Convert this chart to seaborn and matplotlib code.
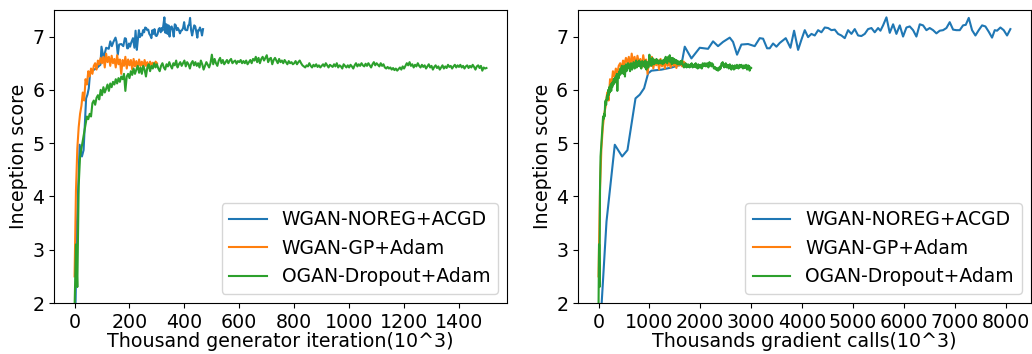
import numpy as np
import pandas as pd
import seaborn as sns
import matplotlib.pyplot as plt

# WGAN-NOREG+ACGD (x in thousand gradient calls)
acgd_calls = [0, 157, 320, 464, 569, 727, 811, 896, 975, 1041, 1139, 1240, 1340, 1440, 1540,
              1630, 1695, 1826, 1990, 2153, 2251, 2349, 2448, 2579, 2644, 2723, 2808, 2939, 3070,
              3169, 3235, 3313, 3365, 3431, 3497, 3562, 3680, 3772, 3844, 3923, 3988, 4054, 4119,
              4185, 4250, 4316, 4381, 4447, 4512, 4578, 4643, 4709, 4774, 4840, 4905, 4971, 5036,
              5102, 5167, 5233, 5298, 5364, 5429, 5495, 5541, 5593, 5659, 5724, 5790, 5855, 5921,
              5986, 6052, 6117, 6183, 6248, 6314, 6379, 6445, 6510, 6576, 6641, 6707, 6772, 6838,
              6903, 6969, 7034, 7100, 7165, 7218, 7277, 7342, 7408, 7473, 7539, 7604, 7670, 7735,
              7788, 7833, 7899, 7964, 8030, 8095]
acgd_score = [1.0, 3.53, 4.97, 4.75, 4.87, 5.84, 5.91, 6.03, 6.31, 6.36, 6.37, 6.38, 6.4, 6.42, 6.45,
              6.47, 6.81, 6.59, 6.79, 6.77, 6.91, 6.82, 6.9, 6.98, 6.9, 6.66, 6.85, 6.86, 6.82,
              6.97, 6.96, 6.78, 6.78, 6.87, 6.81, 6.88, 6.97, 6.79, 7.11, 6.75, 6.94, 7.12, 6.99,
              7.05, 7.02, 7.12, 7.08, 7.17, 7.16, 7.12, 7.13, 7.05, 7.02, 6.97, 7.12, 7.05, 7.14,
              7.02, 7.01, 7.05, 7.14, 7.16, 7.08, 7.16, 7.11, 7.21, 7.36, 7.07, 7.23, 7.05, 7.21,
              7.0, 7.17, 7.19, 7.12, 7.0, 7.23, 7.21, 7.12, 7.16, 7.12, 7.06, 7.11, 7.12, 7.16,
              7.27, 7.13, 7.12, 7.12, 7.21, 7.22, 7.35, 7.12, 7.02, 7.12, 7.21, 7.19, 7.09, 6.98,
              7.12, 7.11, 7.17, 7.12, 7.02, 7.14]
acgd_calls_per_iter = 17.3

# WGAN-GP+Adam, every 5k generator iterations from 0 to 300
gp_step = 5
gp_score = [2.5, 4.1, 4.9, 5.3, 5.55, 5.7, 5.95, 5.8, 6.2, 6.1,
            6.35, 6.25, 6.4, 6.3, 6.45, 6.5, 6.38, 6.55, 6.48, 6.6,
            6.5, 6.62, 6.42, 6.68, 6.52, 6.62, 6.45, 6.64, 6.5, 6.58,
            6.42, 6.65, 6.48, 6.57, 6.3, 6.56, 6.45, 6.62, 6.4, 6.57,
            6.46, 6.56, 6.38, 6.58, 6.44, 6.54, 6.4, 6.57, 6.45, 6.53,
            6.42, 6.56, 6.45, 6.52, 6.41, 6.53, 6.46, 6.51, 6.44, 6.53,
            6.5]
gp_calls_per_iter = 5.67

# OGAN-Dropout+Adam, every 5k generator iterations from 0 to 1500
ogan_step = 5
ogan_score = [1.9, 3.1, 2.3, 4.2, 4.75, 4.9, 5.05, 5.2, 5.35, 5.5,
              5.45, 5.55, 5.5, 5.75, 5.8, 5.72, 5.85, 5.9, 5.82, 6.0,
              5.9, 6.05, 5.95, 6.02, 6.1, 5.98, 6.12, 6.05, 6.15, 6.1,
              6.2, 6.12, 6.22, 6.15, 6.25, 6.2, 6.3, 5.98, 6.25, 6.3,
              6.22, 6.35, 6.28, 6.4, 6.3, 6.38, 6.45, 6.32, 6.42, 6.3,
              6.45, 6.38, 6.25, 6.42, 6.48, 6.35, 6.45, 6.4, 6.5, 6.42,
              6.48, 6.4, 6.35, 6.45, 6.5, 6.42, 6.38, 6.48, 6.44, 6.52,
              6.45, 6.4, 6.5, 6.46, 6.55, 6.42, 6.48, 6.52, 6.45, 6.5,
              6.55, 6.44, 6.52, 6.48, 6.4, 6.5, 6.54, 6.46, 6.52, 6.45,
              6.5, 6.42, 6.55, 6.48, 6.38, 6.45, 6.52, 6.47, 6.42, 6.5,
              6.66, 6.48, 6.58, 6.5, 6.45, 6.55, 6.6, 6.5, 6.56, 6.48,
              6.52, 6.56, 6.5, 6.55, 6.58, 6.5, 6.53, 6.55, 6.49, 6.54,
              6.52, 6.56, 6.5, 6.54, 6.5, 6.55, 6.48, 6.52, 6.56, 6.5,
              6.58, 6.55, 6.62, 6.52, 6.6, 6.5, 6.58, 6.62, 6.55, 6.6,
              6.65, 6.52, 6.58, 6.6, 6.48, 6.56, 6.6, 6.55, 6.5, 6.58,
              6.52, 6.55, 6.5, 6.56, 6.52, 6.48, 6.54, 6.5, 6.52, 6.48,
              6.5, 6.54, 6.48, 6.52, 6.55, 6.5, 6.46, 6.44, 6.42, 6.46,
              6.44, 6.5, 6.45, 6.42, 6.47, 6.44, 6.48, 6.43, 6.46, 6.42,
              6.45, 6.48, 6.44, 6.5, 6.46, 6.42, 6.47, 6.45, 6.43, 6.48,
              6.44, 6.5, 6.42, 6.46, 6.44, 6.4, 6.48, 6.45, 6.42, 6.46,
              6.42, 6.47, 6.44, 6.4, 6.46, 6.5, 6.44, 6.48, 6.45, 6.5,
              6.46, 6.44, 6.49, 6.45, 6.5, 6.46, 6.42, 6.48, 6.52, 6.46,
              6.5, 6.47, 6.44, 6.5, 6.45, 6.48, 6.42, 6.4, 6.43, 6.4,
              6.42, 6.38, 6.41, 6.37, 6.4, 6.36, 6.39, 6.42, 6.38, 6.44,
              6.4, 6.45, 6.5, 6.46, 6.52, 6.45, 6.48, 6.42, 6.47, 6.44,
              6.5, 6.45, 6.42, 6.47, 6.43, 6.46, 6.4, 6.44, 6.48, 6.42,
              6.45, 6.38, 6.43, 6.46, 6.41, 6.44, 6.38, 6.42, 6.46, 6.4,
              6.44, 6.41, 6.47, 6.43, 6.45, 6.4, 6.44, 6.47, 6.42, 6.46,
              6.43, 6.47, 6.42, 6.45, 6.4, 6.44, 6.46, 6.41, 6.45, 6.42,
              6.47, 6.43, 6.38, 6.44, 6.46, 6.41, 6.45, 6.36, 6.42, 6.4,
              6.41]
ogan_calls_per_iter = 2.0

labels = ['WGAN-NOREG+ACGD', 'WGAN-GP+Adam', 'OGAN-Dropout+Adam']
colors = ['#1f77b4', '#ff7f0e', '#2ca02c']

acgd_calls = np.array(acgd_calls, dtype=float)
gp_iter = np.arange(len(gp_score)) * gp_step
ogan_iter = np.arange(len(ogan_score)) * ogan_step

left_series = [(acgd_calls / acgd_calls_per_iter, acgd_score),
               (gp_iter, gp_score),
               (ogan_iter, ogan_score)]
right_series = [(acgd_calls, acgd_score),
                (gp_iter * gp_calls_per_iter, gp_score),
                (ogan_iter * ogan_calls_per_iter, ogan_score)]

fs = 13.7
plt.rcParams['font.size'] = fs

fig = plt.figure(figsize=(10.32, 3.54), dpi=100)
ax1 = fig.add_axes([0.0523, 0.144, 0.439, 0.828])
ax2 = fig.add_axes([0.560, 0.144, 0.439, 0.828])

for ax, series, xlabel in [(ax1, left_series, 'Thousand generator iteration(10^3)'),
                           (ax2, right_series, 'Thousands gradient calls(10^3)')]:
    for (x, y), label, color in zip(series, labels, colors):
        df = pd.DataFrame({'x': x, 'y': y})
        sns.lineplot(data=df, x='x', y='y', ax=ax, color=color, label=label,
                     linewidth=1.5, estimator=None)
    ax.set_ylim(2, 7.5)
    ax.set_yticks([2, 3, 4, 5, 6, 7])
    ax.set_xlabel(xlabel, fontsize=fs, labelpad=0)
    ax.set_ylabel('Inception score', fontsize=fs, labelpad=3)
    ax.tick_params(labelsize=fs)
    ax.legend(loc='lower right', fontsize=13.5)

ax1.set_xticks(range(0, 1401, 200))
ax2.set_xticks(range(0, 8001, 1000))

fig.savefig('out.png', dpi=100)
